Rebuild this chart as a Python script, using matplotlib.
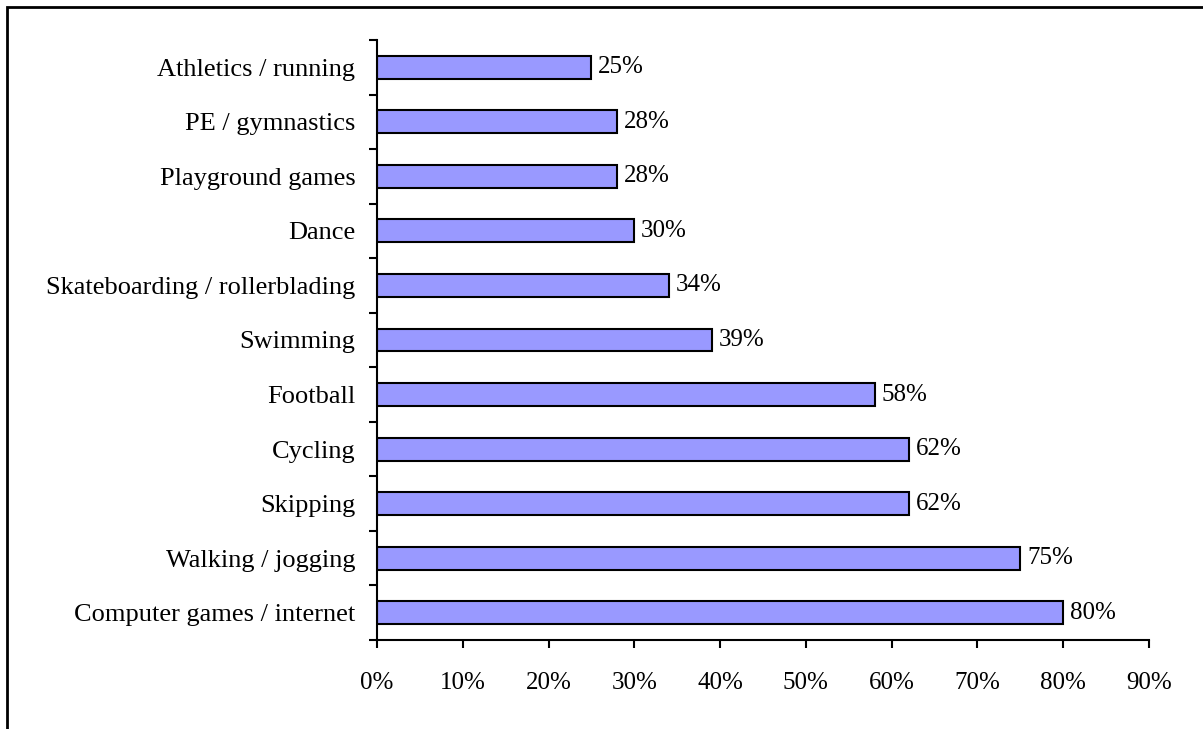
import matplotlib.pyplot as plt
from matplotlib.patches import Rectangle
from matplotlib.ticker import FixedLocator, PercentFormatter

# activities, bottom to top
activities = [
    "Computer games / internet",
    "Walking / jogging",
    "Skipping",
    "Cycling",
    "Football",
    "Swimming",
    "Skateboarding / rollerblading",
    "Dance",
    "Playground games",
    "PE / gymnastics",
    "Athletics / running",
]
shares = [80, 75, 62, 62, 58, 39, 34, 30, 28, 28, 25]
x_ticks = [0, 10, 20, 30, 40, 50, 60, 70, 80, 90]

plt.rcParams['font.family'] = ['Liberation Serif', 'DejaVu Serif']
plt.rcParams['font.size'] = 18

fig = plt.figure(figsize=(12.03, 7.29), dpi=100)
ax = fig.add_axes([377 / 1203, 1 - 640 / 729, (1149 - 377) / 1203, 600 / 729])

pos = list(range(len(activities)))
ax.barh(pos, shares, height=0.42, color='#9999FF', edgecolor='black', linewidth=1.5)
for y, v in zip(pos, shares):
    ax.text(v + 0.8, y, f"{v}%", va='center', ha='left', fontsize=18)

ax.set_xlim(0, 90)
ax.set_ylim(-0.5, len(activities) - 0.5)
ax.set_xticks(x_ticks)
ax.xaxis.set_major_formatter(PercentFormatter(decimals=0))

# category boundaries get the tick marks, labels sit between them
ax.yaxis.set_major_locator(FixedLocator([i - 0.5 for i in range(len(activities) + 1)]))
ax.yaxis.set_minor_locator(FixedLocator(pos))
ax.set_yticklabels([], minor=False)
ax.set_yticklabels(activities, minor=True, fontsize=19)
ax.tick_params(axis='y', which='major', length=6, width=1.5, direction='out')
ax.tick_params(axis='y', which='minor', length=0, pad=15.5)
ax.tick_params(axis='x', length=6, width=1.5, direction='out', pad=17)

for s in ['top', 'right']:
    ax.spines[s].set_visible(False)
for s in ['left', 'bottom']:
    ax.spines[s].set_linewidth(1.5)

# outer frame, only the top and left edges fall inside the image
fig.add_artist(Rectangle((7 / 1203, -0.1), 1.2, 1.1 - 7 / 729, transform=fig.transFigure,
                         fill=False, edgecolor='black', linewidth=2))

# title line sits mostly above the top edge
fig.text(35 / 1203, 1 - 0.4 / 729, "Activities undertaken outside of school", fontsize=18,
         fontweight='bold', va='baseline', ha='left', color='#666666')

fig.savefig('out.png', dpi=100)
